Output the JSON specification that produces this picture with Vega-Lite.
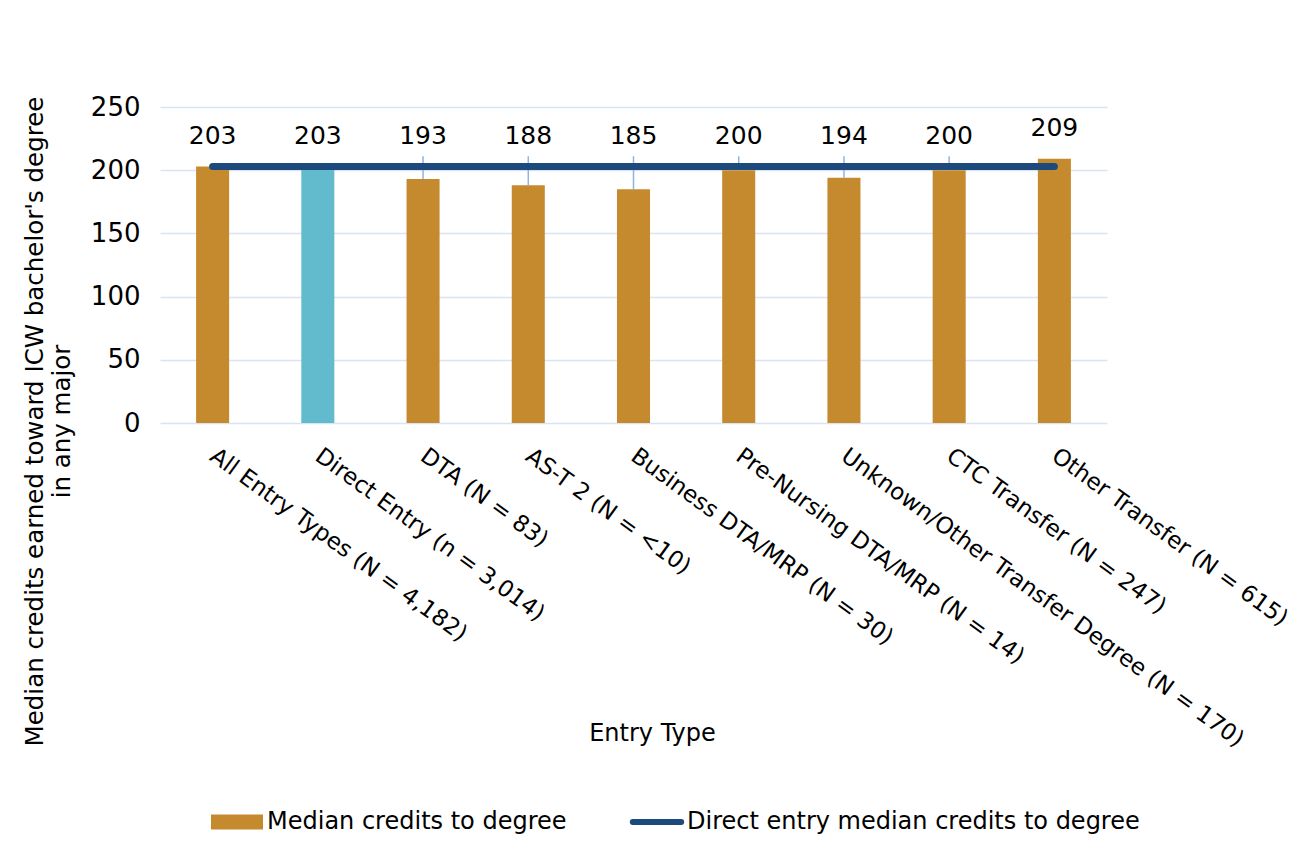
{
  "$schema": "https://vega.github.io/schema/vega-lite/v6.json",
  "width": 947,
  "height": 316,
  "autosize": {"type": "none"},
  "padding": {"left": 160, "top": 107, "right": 205, "bottom": 429},
  "background": "#ffffff",
  "config": {
    "font": "DejaVu Sans",
    "view": {"stroke": null},
    "axis": {"labelColor": "#000000", "titleColor": "#000000", "titleFontWeight": "normal"},
    "legend": {"labelColor": "#000000"}
  },
  "data": {
    "values": [
      {"entry": "All Entry Types (N = 4,182)", "credits": 203, "direct_median": 203, "series": "Median credits to degree"},
      {"entry": "Direct Entry (n = 3,014)", "credits": 203, "direct_median": 203, "series": "Median credits to degree"},
      {"entry": "DTA (N = 83)", "credits": 193, "direct_median": 203, "series": "Median credits to degree"},
      {"entry": "AS-T 2 (N = <10)", "credits": 188, "direct_median": 203, "series": "Median credits to degree"},
      {"entry": "Business DTA/MRP (N = 30)", "credits": 185, "direct_median": 203, "series": "Median credits to degree"},
      {"entry": "Pre-Nursing DTA/MRP (N = 14)", "credits": 200, "direct_median": 203, "series": "Median credits to degree"},
      {"entry": "Unknown/Other Transfer Degree (N = 170)", "credits": 194, "direct_median": 203, "series": "Median credits to degree"},
      {"entry": "CTC Transfer (N = 247)", "credits": 200, "direct_median": 203, "series": "Median credits to degree"},
      {"entry": "Other Transfer (N = 615)", "credits": 209, "direct_median": 203, "series": "Median credits to degree"}
    ]
  },
  "encoding": {
    "x": {
      "field": "entry",
      "type": "nominal",
      "sort": null,
      "scale": {"paddingInner": 0.686, "paddingOuter": 0.343},
      "axis": {
        "title": "Entry Type",
        "titleFontSize": 24,
        "titleX": 492,
        "titleY": 310,
        "titleBaseline": "middle",
        "labelAngle": 36,
        "labelAlign": "left",
        "labelBaseline": "middle",
        "labelFontSize": 23,
        "labelPadding": 30,
        "labelLimit": 0,
        "labelOverlap": false,
        "ticks": false,
        "domain": false,
        "grid": false
      }
    }
  },
  "layer": [
    {
      "mark": {"type": "bar"},
      "encoding": {
        "y": {
          "field": "credits",
          "type": "quantitative",
          "scale": {"domain": [0, 250], "nice": false},
          "axis": {
            "title": ["Median credits earned toward ICW bachelor's degree", "in any major"],
            "titleFontSize": 24.5,
            "titleLineHeight": 27,
            "titleX": -125,
            "titleY": 314,
            "titleAngle": -90,
            "titleAlign": "center",
            "titleBaseline": "middle",
            "values": [0, 50, 100, 150, 200, 250],
            "labelFontSize": 26,
            "labelPadding": 20,
            "ticks": false,
            "domain": false,
            "gridColor": "#D9E4F3",
            "gridWidth": 1.5
          }
        },
        "color": {
          "condition": {"test": "datum.entry === 'Direct Entry (n = 3,014)'", "value": "#62BACD"},
          "field": "series",
          "type": "nominal",
          "scale": {
            "domain": ["Median credits to degree", "Direct entry median credits to degree"],
            "range": ["#C5892E", "#1C4A7C"]
          },
          "legend": {
            "title": null,
            "orient": "none",
            "direction": "horizontal",
            "legendX": 65,
            "legendY": 703,
            "labelFontSize": 24,
            "labelLimit": 0,
            "labelOffset": 18,
            "columnPadding": 53,
            "symbolSize": 2704,
            "symbolStrokeWidth": 0,
            "encode": {
              "symbols": {
                "update": {
                  "shape": {"signal": "datum.value === 'Median credits to degree' ? 'M-1,-0.29H1V0.29H-1Z' : 'M-0.93,0H0.93'"},
                  "fill": {"signal": "datum.value === 'Median credits to degree' ? '#C5892E' : 'transparent'"},
                  "stroke": {"signal": "datum.value === 'Median credits to degree' ? 'transparent' : '#1C4A7C'"},
                  "strokeWidth": {"signal": "datum.value === 'Median credits to degree' ? 0 : 6"},
                  "strokeCap": {"value": "round"},
                  "opacity": {"value": 1}
                }
              }
            }
          }
        }
      }
    },
    {
      "transform": [{"filter": "datum.credits < datum.direct_median"}],
      "mark": {"type": "rule", "color": "#8DB4E2", "strokeWidth": 1.5},
      "encoding": {
        "y": {"field": "credits", "type": "quantitative"},
        "y2": {"datum": 211}
      }
    },
    {
      "mark": {"type": "line", "strokeWidth": 7, "strokeCap": "round", "color": "#1C4A7C"},
      "encoding": {
        "y": {"field": "direct_median", "type": "quantitative"},
        "color": {"datum": "Direct entry median credits to degree"}
      }
    },
    {
      "transform": [{"calculate": "max(datum.credits, datum.direct_median) + 24", "as": "label_at"}],
      "mark": {"type": "text", "fontSize": 25, "baseline": "middle", "color": "#000000"},
      "encoding": {
        "y": {"field": "label_at", "type": "quantitative"},
        "text": {"field": "credits", "type": "quantitative"}
      }
    }
  ]
}
